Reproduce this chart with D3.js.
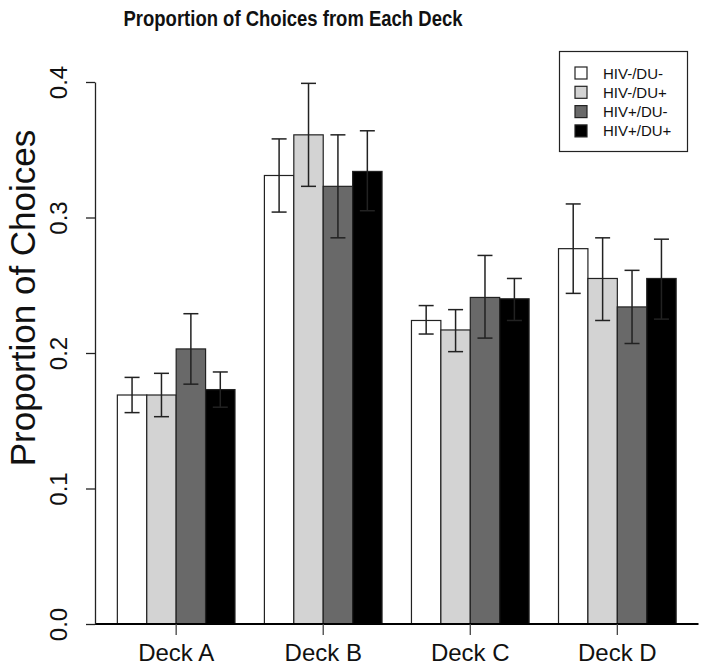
<!DOCTYPE html>
<html>
<head>
<meta charset="utf-8">
<script src="https://cdn.jsdelivr.net/npm/d3@7"></script>
<style>
  body { margin: 0; background: #fff; }
  text { font-family: "Liberation Sans", Arial, sans-serif; }
</style>
</head>
<body>
<div class="canvas"></div>
<script>
/////////////////////////////////
//** DATA **//

const decks = ['Deck A', 'Deck B', 'Deck C', 'Deck D'];
const groups = ['HIV-/DU-', 'HIV-/DU+', 'HIV+/DU-', 'HIV+/DU+'];
const fills = ['#ffffff', '#d3d3d3', '#696969', '#000000'];

// mean proportion per group, one value per deck
const means = [
    [0.169, 0.331, 0.224, 0.277],
    [0.169, 0.361, 0.217, 0.255],
    [0.203, 0.323, 0.241, 0.234],
    [0.173, 0.334, 0.240, 0.255]
];
// error bar lower / upper ends
const lower = [
    [0.156, 0.304, 0.214, 0.244],
    [0.153, 0.323, 0.201, 0.224],
    [0.177, 0.285, 0.211, 0.207],
    [0.160, 0.305, 0.224, 0.225]
];
const upper = [
    [0.182, 0.358, 0.235, 0.310],
    [0.185, 0.399, 0.232, 0.285],
    [0.229, 0.361, 0.272, 0.261],
    [0.186, 0.364, 0.255, 0.284]
];
const yTicks = [0, 0.1, 0.2, 0.3, 0.4];

/////////////////////////////////
//** DIMENSIONS **//

const dims = { width: 705, height: 667 };
const plot = { left: 95, right: 698.5, top: 82, bottom: 624 };

const svg = d3.select('.canvas')
    .append('svg')
    .attr('width', dims.width)
    .attr('height', dims.height);

// scales
const x0 = d3.scaleBand()
    .domain(decks)
    .range([plot.left, plot.right])
    .paddingInner(0.2)
    .paddingOuter(0.152);

const x1 = d3.scaleBand()
    .domain(groups)
    .range([0, x0.bandwidth()]);

const y = d3.scaleLinear()
    .domain([0, 0.4])
    .range([plot.bottom, plot.top]);

// flatten for the join
const rows = [];
decks.forEach((deck, i) => {
    groups.forEach((g, j) => {
        rows.push({ deck, group: g, j, mean: means[j][i], lo: lower[j][i], hi: upper[j][i] });
    });
});

/////////////////////////////////
//** BARS **//

const bars = svg.append('g');

bars.selectAll('rect')
    .data(rows)
    .enter()
    .append('rect')
    .attr('x', d => x0(d.deck) + x1(d.group))
    .attr('y', d => y(d.mean))
    .attr('width', x1.bandwidth())
    .attr('height', d => y(0) - y(d.mean))
    .attr('fill', d => fills[d.j])
    .attr('stroke', '#222')
    .attr('stroke-width', 1.2);

// error bars
const cap = 7.5;
const errs = svg.append('g')
    .attr('stroke', '#222')
    .attr('stroke-width', 1.5);

const cx = d => x0(d.deck) + x1(d.group) + x1.bandwidth() / 2;

errs.selectAll('line.v')
    .data(rows)
    .enter()
    .append('line')
    .attr('class', 'v')
    .attr('x1', cx).attr('x2', cx)
    .attr('y1', d => y(d.lo)).attr('y2', d => y(d.hi));

errs.selectAll('line.top')
    .data(rows)
    .enter()
    .append('line')
    .attr('class', 'top')
    .attr('x1', d => cx(d) - cap).attr('x2', d => cx(d) + cap)
    .attr('y1', d => y(d.hi)).attr('y2', d => y(d.hi));

errs.selectAll('line.bot')
    .data(rows)
    .enter()
    .append('line')
    .attr('class', 'bot')
    .attr('x1', d => cx(d) - cap).attr('x2', d => cx(d) + cap)
    .attr('y1', d => y(d.lo)).attr('y2', d => y(d.lo));

/////////////////////////////////
//** AXES **//

// baseline
svg.append('line')
    .attr('x1', plot.left).attr('x2', plot.right)
    .attr('y1', y(0)).attr('y2', y(0))
    .attr('stroke', '#000')
    .attr('stroke-width', 2);

const yAxis = svg.append('g')
    .attr('transform', `translate(${plot.left}, 0)`)
    .call(d3.axisLeft(y)
        .tickValues(yTicks)
        .tickFormat(d3.format('.1f'))
        .tickSize(9)
        .tickSizeOuter(0));

yAxis.select('.domain').attr('stroke', '#222').attr('stroke-width', 1.3);
yAxis.selectAll('.tick line').attr('stroke', '#222').attr('stroke-width', 1.3);
yAxis.selectAll('.tick text')
    .attr('transform', 'rotate(-90)')
    .attr('x', 0)
    .attr('y', -28)
    .attr('dy', 0)
    .attr('text-anchor', 'middle')
    .attr('fill', '#111')
    .style('font-size', '24px')
    .style('font-family', '"Liberation Sans", Arial, sans-serif');

const xAxis = svg.append('g')
    .attr('transform', `translate(0, ${y(0)})`)
    .call(d3.axisBottom(x0).tickSize(11).tickSizeOuter(0));

xAxis.select('.domain').remove();
xAxis.selectAll('.tick line').attr('stroke', '#444').attr('stroke-width', 1.3);
xAxis.selectAll('.tick text')
    .attr('y', 37)
    .attr('dy', 0)
    .attr('fill', '#111')
    .style('font-size', '24px')
    .style('font-family', '"Liberation Sans", Arial, sans-serif');

// axis title
svg.append('text')
    .attr('transform', `translate(35, ${(plot.top + plot.bottom) / 2 - 55}) rotate(-90)`)
    .attr('text-anchor', 'middle')
    .attr('fill', '#111')
    .style('font-size', '35px')
    .text('Proportion of Choices');

// chart title (slightly condensed, as in the source)
svg.append('text')
    .attr('transform', 'translate(293, 26) scale(0.86, 1)')
    .attr('text-anchor', 'middle')
    .attr('font-weight', 'bold')
    .attr('fill', '#111')
    .style('font-size', '21.5px')
    .text('Proportion of Choices from Each Deck');

/////////////////////////////////
//** LEGEND **//

const legend = svg.append('g');

legend.append('rect')
    .attr('x', 559.5).attr('y', 51.5)
    .attr('width', 128).attr('height', 100)
    .attr('fill', '#fff')
    .attr('stroke', '#222')
    .attr('stroke-width', 1.2);

const items = legend.selectAll('g.item')
    .data(groups)
    .enter()
    .append('g')
    .attr('class', 'item')
    .attr('transform', (d, i) => `translate(575, ${73 + i * 19.3})`);

items.append('rect')
    .attr('x', 0).attr('y', -6)
    .attr('width', 12).attr('height', 12)
    .attr('fill', (d, i) => fills[i])
    .attr('stroke', '#222')
    .attr('stroke-width', 1.2);

items.append('text')
    .attr('x', 28)
    .attr('y', 5.5)
    .attr('fill', '#111')
    .style('font-size', '15px')
    .text(d => d);
</script>
</body>
</html>
